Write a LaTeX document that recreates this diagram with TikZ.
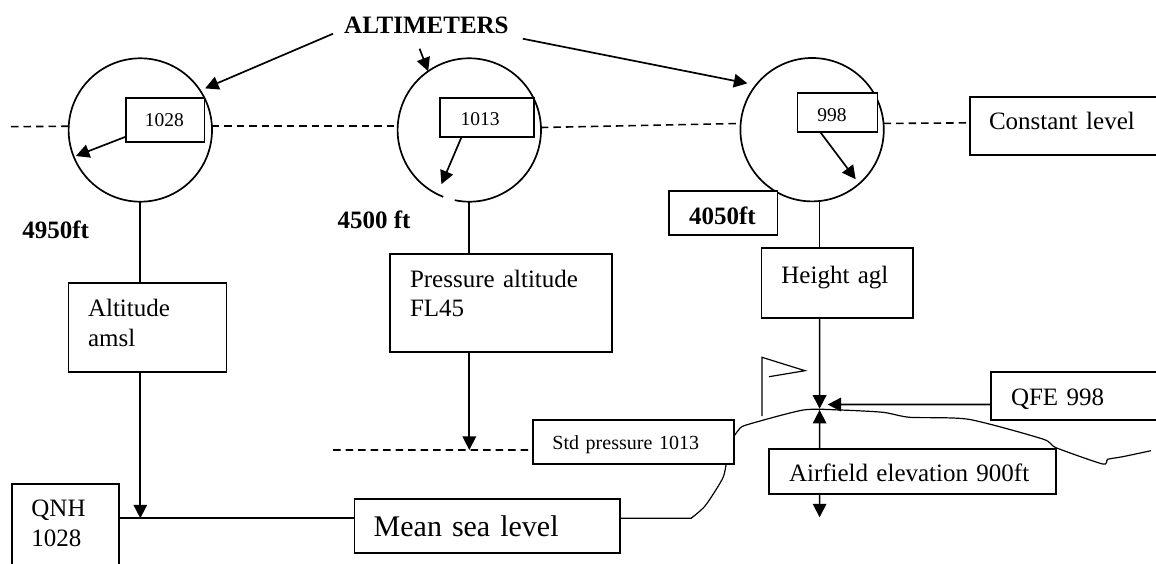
\documentclass[tikz,border=0pt]{standalone}
\usepackage{fontspec}
\setmainfont{Liberation Serif}
\usetikzlibrary{arrows.meta,calc}
\newcommand\fnMain{\fontsize{25}{29.5}\selectfont}
\newcommand\fnSmall{\fontsize{19.5}{23}\selectfont}
\newcommand\fnStd{\fontsize{20}{24}\selectfont}
\newcommand\fnBig{\fontsize{30}{35}\selectfont}
\newcommand\fnBold{\fontsize{25}{30}\selectfont\bfseries}
\begin{document}
\begin{tikzpicture}[x=1pt,y=-1pt,
  lw/.style={line width=1.7pt},
  tbox/.style={draw, line width=1.7pt, fill=white, inner ysep=0pt, inner xsep=#1, outer sep=0pt, align=left, anchor=north west},
  dial/.style={circle, draw, line width=1.7pt, minimum size=143.4pt, inner sep=0pt, outer sep=0pt},
  arr/.style={line width=1.7pt, -{Triangle[length=13.5pt,width=13.5pt]}},
  dsh/.style={line width=1.6pt, dash pattern=on 7.5pt off 5pt},
  hand/.style={line width=1.2pt},
  lbl/.style={anchor=base west, inner sep=0pt, font=\fnBold}
]
\useasboundingbox (0,0) rectangle (1156,564);

% dials
\node[dial] (c1) at (140.3,130) {};
\node[circle, minimum size=143.4pt, inner sep=0pt, outer sep=0pt] (c2) at (469.3,130) {};
\draw[lw] ([shift={(-101.7:71.7pt)}]c2.center) arc[start angle=-101.7, end angle=248.7, radius=71.7pt];
\node[dial] (c3) at (812.1,129.7) {};

% boxes
\node[tbox=19pt, text width=40.8pt, text height=29pt, text depth=15pt, font=\fnSmall] (b1) at (125.8,97.7) {1028};
\node[tbox=20.4pt, text width=52.8pt, text height=28pt, text depth=11pt, font=\fnSmall] (b2) at (440.2,97.7) {1013};
\node[tbox=19.8pt, text width=40.3pt, text height=29pt, text depth=10.6pt, font=\fnSmall] (b3) at (797.5,92.7) {998};
\node[tbox=19.3pt, text width=151.7pt, text height=33.3pt, text depth=25pt, font=\fnMain] (cl) at (969.7,96.7) {Constant level};
\node[tbox=20pt, text width=68.4pt, text height=33.3pt, text depth=11pt, font=\fnBold] (b4) at (669,190.7) {4050ft};
\node[tbox=19.6pt, text width=118.8pt, text height=33.4pt, text depth=55pt, font=\fnMain] (am) at (68.4,283.3) {Altitude\\amsl};
\node[tbox=19.7pt, text width=182.3pt, text height=33pt, text depth=64.7pt, font=\fnMain] (pa) at (390.3,254) {Pressure altitude\\FL45};
\node[tbox=20pt, text width=111.3pt, text height=35pt, text depth=34.4pt, font=\fnMain] (ha) at (761.4,248.3) {Height agl};
\node[tbox=20pt, text width=129pt, text height=33.3pt, text depth=15pt, font=\fnMain] (qfe) at (991,371.7) {QFE 998};
\node[tbox=19.7pt, text width=161.6pt, text height=29.5pt, text depth=14.8pt, font=\fnStd] (std) at (532.7,420) {Std pressure 1013};
\node[tbox=20pt, text width=247pt, text height=32.4pt, text depth=12.3pt, font=\fnMain] (af) at (769,449.3) {Airfield elevation 900ft};
\node[tbox=19.3pt, text width=226.7pt, text height=37.7pt, text depth=16pt, font=\fnBig] (msl) at (354.4,499) {Mean sea level};
\node[tbox=19.6pt, text width=68.1pt, text height=32.7pt, text depth=90pt, font=\fnMain] (qnh) at (11.8,484) {QNH\\1028};

% free labels
\node[lbl] (altl) at (344,33.3) {ALTIMETERS};
\node[lbl] (h1) at (22.2,238.3) {4950ft};
\node[lbl] (h2) at (337.4,228.3) {4500 ft};

% reference points
\coordinate (dl) at (11,126.7);
\coordinate (ds) at (333,450);
\coordinate (J) at (819.6,409.3);
\coordinate (afdn) at (819.6,517.3);
\coordinate (mslref) at ([yshift=7.6pt]msl.west);
\coordinate (stdref) at ([yshift=-7.8pt]std.west);

% ALTIMETERS arrows
\draw[arr] ([xshift=-11pt]altl.south west) -- ([shift={(32.7:77pt)}]c1.center);
\draw[arr] ([xshift=75.6pt,yshift=-15pt]altl.south west) -- (c2.125);
\draw[arr] ([xshift=14pt,yshift=-5pt]altl.south east) -- ([shift={(144.4:79.6pt)}]c3.center);

% constant level dashed line
\draw[dsh] (dl) -- (c1.177);
\draw[dsh] (c1.3) -- (c2.177);
\draw[dsh] (c2.2) -- (c3.175);
\draw[dsh] (c3.5) -- ([yshift=3pt]cl.west);
\draw[dsh] (ds) -- (stdref);

% dial stems
\draw[lw] (c1.south) -- (c1.south |- am.north);
\draw[lw] (c2.south) -- (c2.south |- pa.north);
\draw[lw] (c3.-84) -- (c3.-84 |- ha.north);

% needles
\draw[arr] ([yshift=5pt]b1.south west) -- ([shift={(202:69.5pt)}]c1.center);
\draw[arr] ([xshift=21.5pt]b2.south west) -- ([shift={(242.8:61pt)}]c2.center);
\draw[arr] ([xshift=22.9pt]b3.south west) -- ([shift={(-48.7:66pt)}]c3.center);

% lower connectors
\draw[arr] (c1.south |- am.south) -- (c1.south |- mslref);
\draw[lw] (qnh.east |- mslref) -- (mslref);
\draw[arr] (c2.south |- pa.south) -- (c2.south |- stdref);
\draw[arr] (c3.-84 |- ha.south) -- ([yshift=0.6pt]J);
\draw[arr] (c3.-84 |- af.north) -- ([yshift=-0.6pt]J);
\draw[arr] ([yshift=-8.6pt]qfe.west) -- ([xshift=8pt,yshift=4.8pt]J);
\draw[arr] (c3.-84 |- af.south) -- (afdn);

% mark
\draw[hand] (762,416) -- (762,357.3) -- (805,370.7) -- (769,376.7);

% terrain
\draw[hand] ([yshift=7.6pt]msl.east) -- plot[smooth, tension=0.5] coordinates {(691.1,518.3) (704.4,506.7) (715.8,490) (723.4,476.7) (726.1,464.3)};
\draw[hand] plot[smooth, tension=0.4] coordinates {(733.7,436.7) (738.6,430) (746.2,425) (803.3,410) (840,410) (883,412.3) (909.7,417.3) (968.6,419.3) (1042.7,439) (1056,447.7) (1102.7,464) (1107.7,459.3) (1122.7,456.7) (1151,450.7)};
\end{tikzpicture}
\end{document}
